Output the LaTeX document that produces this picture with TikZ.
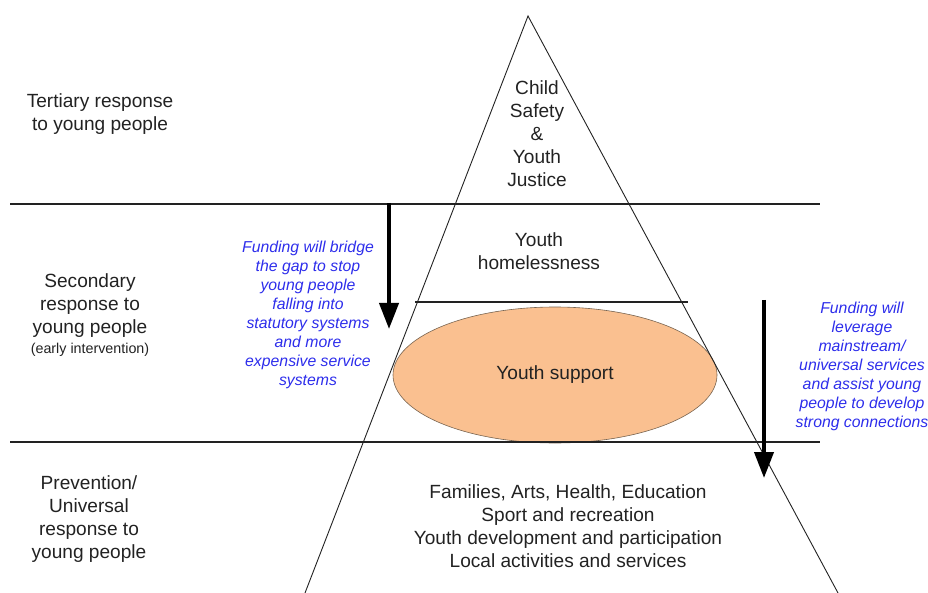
\documentclass[tikz,border=0pt]{standalone}
\usepackage{fontspec}
\setmainfont{Liberation Sans}
\usetikzlibrary{arrows.meta,shapes.geometric}
\definecolor{ink}{RGB}{34,34,34}
\definecolor{fundblue}{RGB}{45,45,235}
\definecolor{ovalfill}{RGB}{250,192,144}
\definecolor{ovaledge}{RGB}{120,100,80}
\tikzset{
  lbl/.style={inner sep=0pt, align=center, text=ink, font=\fontsize{19.1}{23}\selectfont},
  fund/.style={inner sep=0pt, align=center, text=fundblue, font=\fontsize{15.8}{19}\selectfont\itshape},
  band/.style={draw=ink, line width=1.4pt},
  edge/.style={draw=ink, line width=0.9pt},
  bigarrow/.style={draw=black, line width=4pt, -{Triangle[width=19pt,length=26pt]}},
}
\begin{document}
\begin{tikzpicture}[x=1pt,y=-1pt]
\useasboundingbox (0,0) rectangle (928,593);
% oval
\node[ellipse, draw=ovaledge, line width=0.6pt, fill=ovalfill, minimum width=324pt, minimum height=136pt, inner sep=0pt] (oval) at (555,375) {};
\node[lbl] (ys) at (555,375) {Youth support};
% triangle sides
\coordinate (apex) at (528,16);
\coordinate (bl) at (305,593);
\coordinate (br) at (838,593);
\draw[edge] (bl) -- (apex) -- (br);
% bands
\coordinate (b1l) at (10,204); \coordinate (b1r) at (820,204);
\coordinate (b2l) at (10,442); \coordinate (b2r) at (820,442);
\coordinate (sl) at (415,302); \coordinate (sr) at (688,302);
\draw[band] (b1l) -- (b1r);
\draw[band] (b2l) -- (b2r);
\draw[band] (sl) -- (sr);
% arrows
\coordinate (a1s) at (389,203); \coordinate (a1e) at (389,329);
\coordinate (a2s) at (764,300); \coordinate (a2e) at (764,478);
\draw[bigarrow] (a1s) -- (a1e);
\draw[bigarrow] (a2s) -- (a2e);
% left labels
\node[lbl] (tert) at (100,114) {Tertiary response\\to young people};
\node[lbl, anchor=north] (sec) at (90,273) {Secondary\\response to\\young people\\[-3pt]{\fontsize{14.3}{17}\selectfont (early intervention)}};
\node[lbl] (prev) at (89,519) {Prevention/\\Universal\\response to\\young people};
% pyramid labels
\node[lbl] (csyj) at (537,134) {Child\\Safety\\\&\\Youth\\Justice};
\node[lbl] (yh) at (539,251) {Youth\\homelessness};
\node[lbl] (univ) at (568,526) {Families, Arts, Health, Education\\Sport and recreation\\Youth development and participation\\Local activities and services};
% funding notes
\node[fund] (f1) at (308,315) {Funding will bridge\\the gap to stop\\young people\\falling into\\statutory systems\\and more\\expensive service\\systems};
\node[fund] (f2) at (862,366) {Funding will\\leverage\\mainstream/\\universal services\\and assist young\\people to develop\\strong connections};
\end{tikzpicture}
\end{document}
